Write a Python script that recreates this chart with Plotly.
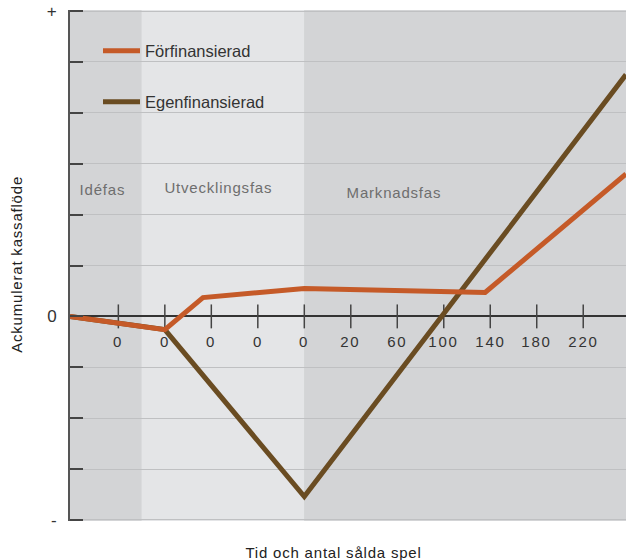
import plotly.graph_objects as go

# ---- data ----
tick_pos = [1, 2, 3, 4, 5, 6, 7, 8, 9, 10, 11]
tick_labels = ["0", "0", "0", "0", "0", "20", "60", "100", "140", "180", "220"]

x_forfin = [-0.04, 2, 2.82, 5, 8.89, 11.92]
y_forfin = [0.0, -0.26, 0.37, 0.55, 0.47, 2.8]

x_egenfin = [-0.04, 2, 5, 11.92]
y_egenfin = [0.0, -0.26, -3.54, 4.75]

phase_names = ["Idéfas", "Utvecklingsfas", "Marknadsfas"]
phase_start = [-0.04, 1.5, 5]
phase_end = [1.5, 5, 11.92]
phase_label_x = [0.65, 3.15, 6.93]
phase_label_y = [2.5, 2.54, 2.44]
phase_colors = ["#d3d4d6", "#e4e5e7", "#d3d4d6"]

y_tickvals = [-4, -3, -2, -1, 0, 1, 2, 3, 4, 5, 6]
y_ticktext = ["-", "", "", "", "0", "", "", "", "", "", "+"]

FONT = "Liberation Sans, Arial, Helvetica, sans-serif"
ORANGE = "#c55a28"
BROWN = "#6a4c22"

fig = go.Figure()

# tick marks crossing the zero line
tx, ty = [], []
for t in tick_pos:
    tx += [t, t, None]
    ty += [-0.235, 0.235, None]
fig.add_trace(go.Scatter(x=tx, y=ty, mode="lines",
                         line=dict(color="#444444", width=1.5),
                         showlegend=False, hoverinfo="skip"))

fig.add_trace(go.Scatter(x=x_egenfin, y=y_egenfin, mode="lines", name="Egenfinansierad",
                         line=dict(color=BROWN, width=5), legend="legend2"))
fig.add_trace(go.Scatter(x=x_forfin, y=y_forfin, mode="lines", name="Förfinansierad",
                         line=dict(color=ORANGE, width=5), legend="legend"))

# phase backgrounds
for s, e, c in zip(phase_start, phase_end, phase_colors):
    fig.add_shape(type="rect", xref="x", yref="paper", x0=s, x1=e, y0=0, y1=1,
                  fillcolor=c, line=dict(width=0), layer="below")

# phase labels
for name, lx, ly in zip(phase_names, phase_label_x, phase_label_y):
    fig.add_annotation(x=lx, y=ly, xref="x", yref="y", text=name, showarrow=False,
                       font=dict(family=FONT, size=15, color="#6e6e6e"))

# x tick labels under the zero line
for t, lab in zip(tick_pos, tick_labels):
    fig.add_annotation(x=t, y=0, xref="x", yref="y", text=lab, showarrow=False,
                       yshift=-25, font=dict(family=FONT, size=15, color="#333333"))

# axis titles
fig.add_annotation(xref="paper", yref="paper", x=(333 - 70) / 556, y=-31 / 511,
                   yanchor="middle", text="Tid och antal sålda spel", showarrow=False,
                   font=dict(family=FONT, size=15, color="#222222"))
fig.add_annotation(xref="paper", yref="paper", x=(16 - 70) / 556, y=(521 - 265) / 511,
                   xanchor="center", yanchor="middle",
                   text="Ackumulerat kassaflöde", textangle=-90, showarrow=False,
                   font=dict(family=FONT, size=15, color="#222222"))

fig.update_layout(
    width=626, height=560,
    margin=dict(l=70, r=0, t=10, b=39),
    paper_bgcolor="white",
    plot_bgcolor="#d3d4d6",
    font=dict(family=FONT, color="#333333"),
    legend=dict(x=(98 - 70) / 556, y=(521 - 51) / 511, xanchor="left", yanchor="middle",
                itemwidth=37,
                bgcolor="rgba(0,0,0,0)", font=dict(family=FONT, size=16.5, color="#333333")),
    legend2=dict(x=(98 - 70) / 556, y=(521 - 102) / 511, xanchor="left", yanchor="middle",
                 itemwidth=37,
                 bgcolor="rgba(0,0,0,0)", font=dict(family=FONT, size=16.5, color="#333333")),
    xaxis=dict(range=[-0.04, 11.92], showgrid=False, zeroline=False, showticklabels=False,
               ticks="", showline=False, fixedrange=True),
    yaxis=dict(range=[-4.02, 6.02], tickvals=y_tickvals, ticktext=y_ticktext,
               showgrid=True, gridcolor="#bfc0c2", gridwidth=1,
               zeroline=True, zerolinecolor="#333333", zerolinewidth=1.5,
               showline=True, linecolor="#555555", linewidth=2,
               ticks="inside", ticklen=13, tickwidth=1.5, tickcolor="#444444",
               ticklabelstandoff=8,
               tickfont=dict(family=FONT, size=17, color="#333333"), fixedrange=True),
)

post = """
document.body.style.margin='0';
document.body.style.overflow='hidden';
document.querySelectorAll('.main-svg text.annotation-text').forEach(function(t){
  var s = (t.textContent || '').trim();
  if (/^[0-9]+$/.test(s)) { t.style.letterSpacing = '1.8px'; }
  else if (s.length > 1) { t.style.letterSpacing = '0.8px'; }
});
"""

fig.write_html("out.html", config={"displayModeBar": False}, post_script=post)
